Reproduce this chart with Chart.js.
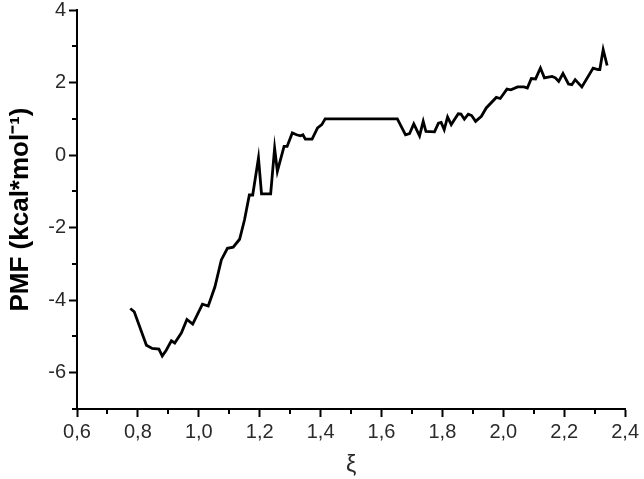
<!DOCTYPE html>
<html>
<head>
<meta charset="utf-8">
<script src="https://cdn.jsdelivr.net/npm/chart.js@4"></script>
<style>
  html, body { margin: 0; padding: 0; background: #fff; }
  #wrap { width: 644px; height: 479px; }
</style>
</head>
<body>
<div id="wrap"><canvas id="pmf_chart" width="644" height="479"></canvas></div>
<script>
// reaction coordinate and PMF values
const xi = [
  0.775, 0.788, 0.828, 0.847, 0.869, 0.880, 0.893, 0.910, 0.921, 0.943,
  0.961, 0.980, 1.012, 1.031, 1.053, 1.074, 1.094, 1.113, 1.134, 1.150,
  1.166, 1.177, 1.196, 1.206, 1.236, 1.249, 1.258, 1.280, 1.290, 1.307,
  1.321, 1.334, 1.342, 1.350, 1.372, 1.390, 1.404, 1.415, 1.652, 1.679,
  1.692, 1.706, 1.725, 1.737, 1.746, 1.774, 1.787, 1.796, 1.806, 1.817,
  1.829, 1.852, 1.861, 1.872, 1.885, 1.896, 1.909, 1.928, 1.944, 1.977,
  1.990, 2.012, 2.025, 2.047, 2.068, 2.079, 2.092, 2.106, 2.122, 2.135,
  2.160, 2.171, 2.182, 2.196, 2.214, 2.225, 2.236, 2.258, 2.295, 2.311,
  2.317, 2.328, 2.341
];
const pmf = [
  -4.23, -4.32, -5.24, -5.33, -5.35, -5.54, -5.38, -5.12, -5.18, -4.90,
  -4.53, -4.66, -4.11, -4.16, -3.63, -2.89, -2.57, -2.54, -2.32, -1.79,
  -1.10, -1.10, -0.08, -1.07, -1.07, 0.19, -0.45, 0.24, 0.24, 0.61,
  0.56, 0.53, 0.56, 0.44, 0.44, 0.75, 0.84, 1.00, 1.00, 0.56,
  0.59, 0.86, 0.53, 0.93, 0.65, 0.64, 0.88, 0.90, 0.70, 1.05,
  0.84, 1.14, 1.13, 0.99, 1.13, 1.09, 0.93, 1.07, 1.30, 1.59,
  1.56, 1.82, 1.80, 1.88, 1.88, 1.85, 2.11, 2.10, 2.40, 2.13,
  2.17, 2.13, 2.03, 2.25, 1.96, 1.94, 2.08, 1.88, 2.40, 2.36,
  2.36, 2.91, 2.47
];

const xMin = 0.6, xMax = 2.4, xStep = 0.1;
const yMin = -7, yMax = 4, yStep = 1;
const xTitle = 'ξ';
const yTitle = 'PMF (kcal*mol⁻¹)';

let chart;

function isMajor(v, step)
{
    return Math.round(v / step) % 2 === 0;
}

// short ticks for the odd (unlabelled) positions
const minorTicks = {
    id: 'minorTicks',
    afterDraw(c) {
        const ctx = c.ctx;
        const xs = c.scales.x, ys = c.scales.y;
        ctx.save();
        ctx.strokeStyle = '#000';
        ctx.lineWidth = 2;
        ctx.beginPath();
        xs.ticks.forEach(t => {
            if (isMajor(t.value - xMin, xStep)) return;
            const px = Math.round(xs.getPixelForValue(t.value));
            ctx.moveTo(px, ys.bottom);
            ctx.lineTo(px, ys.bottom + 5);
        });
        ys.ticks.forEach(t => {
            if (isMajor(t.value, yStep)) return;
            const py = Math.round(ys.getPixelForValue(t.value));
            ctx.moveTo(xs.left, py);
            ctx.lineTo(xs.left - 5, py);
        });
        ctx.stroke();
        ctx.restore();
    }
};

function Init()
{
    const points = xi.map((x, i) => ({ x: x, y: pmf[i] }));
    const ctx = document.getElementById('pmf_chart').getContext('2d');
    const family = "'Liberation Sans', Arial, sans-serif";

    chart = new Chart(ctx, {
        type: 'line',
        data: {
            datasets: [{
                data: points,
                borderColor: '#000',
                borderWidth: 2.8,
                pointRadius: 0,
                tension: 0,
                fill: false
            }]
        },
        options: {
            responsive: false,
            animation: false,
            layout: { padding: { left: 0, right: 14, top: 10, bottom: 0 } },
            plugins: {
                legend: { display: false },
                tooltip: { enabled: false }
            },
            scales: {
                x: {
                    type: 'linear',
                    min: xMin,
                    max: xMax,
                    border: { display: true, color: '#000', width: 2 },
                    grid: {
                        drawOnChartArea: false,
                        tickLength: 8,
                        tickWidth: 2,
                        tickColor: c => isMajor(c.tick.value - xMin, xStep) ? '#000' : 'rgba(0,0,0,0)'
                    },
                    ticks: {
                        stepSize: xStep,
                        autoSkip: false,
                        maxRotation: 0,
                        padding: 5,
                        color: '#2a2a2a',
                        font: { family: family, size: 20, lineHeight: 1 },
                        callback: v => isMajor(v - xMin, xStep) ? v.toFixed(1).replace('.', ',') : ''
                    },
                    title: {
                        display: true,
                        text: xTitle,
                        color: '#2a2a2a',
                        font: { family: family, size: 23 },
                        padding: { top: 4, bottom: 0 }
                    },
                    afterFit: s => { s.height = 70; }
                },
                y: {
                    min: yMin,
                    max: yMax,
                    border: { display: true, color: '#000', width: 2 },
                    grid: {
                        drawOnChartArea: false,
                        tickLength: 8,
                        tickWidth: 2,
                        tickColor: c => isMajor(c.tick.value, yStep) ? '#000' : 'rgba(0,0,0,0)'
                    },
                    ticks: {
                        stepSize: yStep,
                        autoSkip: false,
                        padding: 3,
                        color: '#2a2a2a',
                        font: { family: family, size: 20, lineHeight: 0.7 },
                        callback: v => isMajor(v, yStep) ? String(v) : ''
                    },
                    title: {
                        display: true,
                        text: yTitle,
                        color: '#000',
                        font: { family: family, size: 26, weight: 'bold' },
                        padding: { top: 5, bottom: 0 }
                    },
                    afterFit: s => { s.width = 77; }
                }
            }
        },
        plugins: [minorTicks]
    });
}

Init();
</script>
</body>
</html>
